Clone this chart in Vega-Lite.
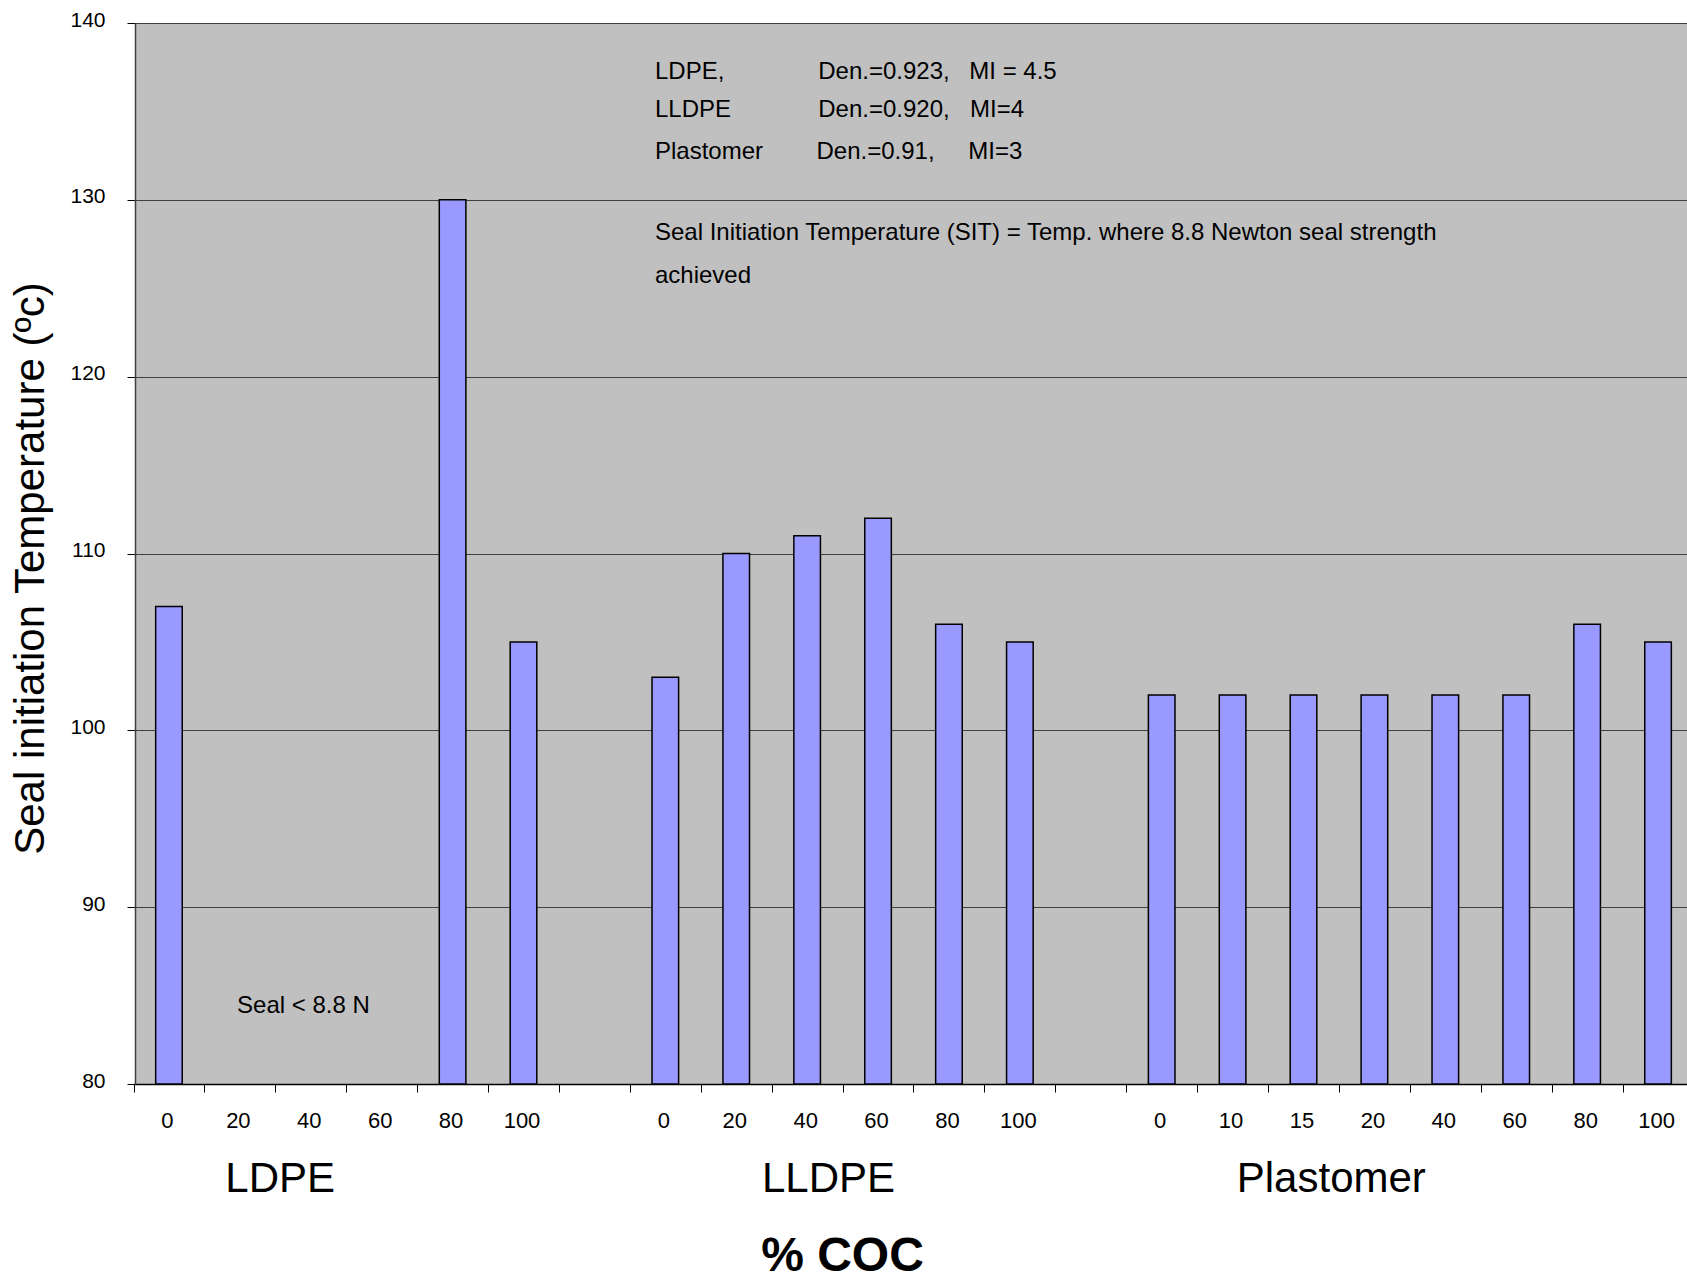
{
  "$schema": "https://vega.github.io/schema/vega-lite/v6.json",
  "width": 1552,
  "height": 1061,
  "autosize": {"type": "none"},
  "padding": {"left": 135, "top": 23, "right": 0, "bottom": 192},
  "background": "white",
  "config": {
    "font": "Liberation Sans",
    "view": {"fill": "#C0C0C0", "stroke": null}
  },
  "layer": [
    {
      "data": {
        "values": [
          {"polymer": "LDPE", "coc": "0", "slot": "LDPE|0", "sit": 107},
          {"polymer": "LDPE", "coc": "20", "slot": "LDPE|20", "sit": null},
          {"polymer": "LDPE", "coc": "40", "slot": "LDPE|40", "sit": null},
          {"polymer": "LDPE", "coc": "60", "slot": "LDPE|60", "sit": null},
          {"polymer": "LDPE", "coc": "80", "slot": "LDPE|80", "sit": 130},
          {"polymer": "LDPE", "coc": "100", "slot": "LDPE|100", "sit": 105},
          {"polymer": "LLDPE", "coc": "0", "slot": "LLDPE|0", "sit": 103},
          {"polymer": "LLDPE", "coc": "20", "slot": "LLDPE|20", "sit": 110},
          {"polymer": "LLDPE", "coc": "40", "slot": "LLDPE|40", "sit": 111},
          {"polymer": "LLDPE", "coc": "60", "slot": "LLDPE|60", "sit": 112},
          {"polymer": "LLDPE", "coc": "80", "slot": "LLDPE|80", "sit": 106},
          {"polymer": "LLDPE", "coc": "100", "slot": "LLDPE|100", "sit": 105},
          {"polymer": "Plastomer", "coc": "0", "slot": "Plastomer|0", "sit": 102},
          {"polymer": "Plastomer", "coc": "10", "slot": "Plastomer|10", "sit": 102},
          {"polymer": "Plastomer", "coc": "15", "slot": "Plastomer|15", "sit": 102},
          {"polymer": "Plastomer", "coc": "20", "slot": "Plastomer|20", "sit": 102},
          {"polymer": "Plastomer", "coc": "40", "slot": "Plastomer|40", "sit": 102},
          {"polymer": "Plastomer", "coc": "60", "slot": "Plastomer|60", "sit": 102},
          {"polymer": "Plastomer", "coc": "80", "slot": "Plastomer|80", "sit": 106},
          {"polymer": "Plastomer", "coc": "100", "slot": "Plastomer|100", "sit": 105}
        ]
      },
      "mark": {
        "type": "bar",
        "fill": "#9999FF",
        "stroke": "#000000",
        "strokeWidth": 1.5,
        "width": {"band": 0.375}
      },
      "encoding": {
        "x": {
          "field": "slot",
          "type": "nominal",
          "sort": null,
          "scale": {
            "domain": ["LDPE|0", "LDPE|20", "LDPE|40", "LDPE|60", "LDPE|80", "LDPE|100", "gap1|",
                       "LLDPE|0", "LLDPE|20", "LLDPE|40", "LLDPE|60", "LLDPE|80", "LLDPE|100", "gap2|",
                       "Plastomer|0", "Plastomer|10", "Plastomer|15", "Plastomer|20", "Plastomer|40", "Plastomer|60", "Plastomer|80", "Plastomer|100"],
            "range": [-1.5, 1558.5],
            "paddingInner": 0,
            "paddingOuter": 0
          },
          "axis": {
            "orient": "bottom",
            "title": null,
            "labelExpr": "split(datum.value, '|')[1]",
            "labelAngle": 0,
            "labelFontSize": 22,
            "labelColor": "black",
            "labelPadding": 18,
            "labelOffset": -2,
            "tickBand": "extent",
            "tickSize": 8,
            "tickColor": "black",
            "tickWidth": 1,
            "domainColor": "black",
            "domainWidth": 1.5,
            "grid": false
          }
        },
        "y": {
          "field": "sit",
          "type": "quantitative",
          "title": "Seal initiation Temperature (ºc)",
          "scale": {"domain": [80, 140], "zero": false, "nice": false},
          "axis": {
            "values": [80, 90, 100, 110, 120, 130, 140],
            "grid": true,
            "gridColor": "#404040",
            "gridWidth": 1,
            "domainColor": "#404040",
            "domainWidth": 1.5,
            "tickColor": "black",
            "tickSize": 8,
            "labelFontSize": 21,
            "labelColor": "black",
            "labelPadding": 22,
            "labelOffset": -3,
            "labelBaseline": "middle",
            "titleFontSize": 42,
            "titleFontWeight": "normal",
            "titleColor": "black",
            "titleAngle": 270,
            "titleX": -92,
            "titleY": 545,
            "titleBaseline": "alphabetic",
            "titleAlign": "center"
          }
        },
        "y2": {"datum": 80}
      }
    },
    {
      "data": {
        "values": [
          {"note": "LDPE,", "pos": 7.333, "level": 136.83},
          {"note": "Den.=0.923,", "pos": 9.635, "level": 136.83},
          {"note": "MI = 4.5", "pos": 11.766, "level": 136.83},
          {"note": "LLDPE", "pos": 7.333, "level": 134.67},
          {"note": "Den.=0.920,", "pos": 9.635, "level": 134.67},
          {"note": "MI=4", "pos": 11.776, "level": 134.67},
          {"note": "Plastomer", "pos": 7.333, "level": 132.29},
          {"note": "Den.=0.91,", "pos": 9.611, "level": 132.29},
          {"note": "MI=3", "pos": 11.752, "level": 132.29},
          {"note": "Seal Initiation Temperature (SIT) = Temp. where 8.8 Newton seal strength", "pos": 7.333, "level": 127.73},
          {"note": "achieved", "pos": 7.333, "level": 125.28},
          {"note": "Seal < 8.8 N", "pos": 1.44, "level": 84.03}
        ]
      },
      "mark": {
        "type": "text",
        "align": "left",
        "baseline": "alphabetic",
        "fontSize": 24,
        "color": "black"
      },
      "encoding": {
        "x": {
          "field": "pos",
          "type": "quantitative",
          "scale": {"domain": [0, 22], "range": [0, 1560], "nice": false, "zero": false},
          "axis": {
            "orient": "bottom",
            "values": [2.041, 9.773, 16.864],
            "labelExpr": "datum.value < 5 ? 'LDPE' : datum.value < 12 ? 'LLDPE' : 'Plastomer'",
            "domain": false,
            "ticks": false,
            "tickSize": 0,
            "grid": false,
            "labelFontSize": 42,
            "labelColor": "black",
            "labelPadding": 74,
            "labelLimit": 0,
            "labelFlush": false,
            "labelOverlap": false,
            "labelBound": false,
            "title": "% COC",
            "titleFontSize": 48,
            "titleFontWeight": "bold",
            "titleColor": "black",
            "titleX": 707,
            "titleY": 186,
            "titleBaseline": "alphabetic",
            "titleAlign": "center"
          }
        },
        "y": {"field": "level", "type": "quantitative", "title": "Seal initiation Temperature (ºc)"},
        "text": {"field": "note", "type": "nominal"}
      }
    }
  ],
  "resolve": {"scale": {"x": "independent"}}
}
